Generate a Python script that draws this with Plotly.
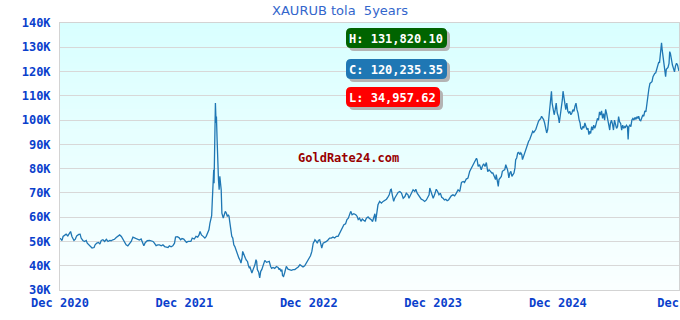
import datetime as dt
import plotly.graph_objects as go

# ---------------- data ----------------
start_date = "2020-12-10"

day_offsets = [
    0, 6, 9, 14, 18, 23, 28, 31, 35, 41, 45, 49, 55, 59, 62, 67, 72, 77, 80, 84,
    89, 94, 100, 103, 108, 113, 117, 121, 126, 131, 136, 141, 146, 150, 155, 160, 165, 170, 175, 180,
    185, 190, 194, 199, 204, 209, 214, 219, 224, 229, 233, 238, 243, 246, 250, 256, 263, 268, 273, 277,
    282, 287, 292, 297, 302, 307, 312, 317, 321, 326, 331, 336, 339, 344, 349, 354, 358, 363,
    371, 376, 384, 388, 394, 399, 404, 408, 411, 415, 420, 425, 429, 433, 437, 440, 443, 445, 447, 449,
    451, 452, 454, 456, 458, 459, 461, 463, 465, 467, 469, 471, 473, 475, 477, 479, 482, 485, 488, 491,
    494, 496, 498, 501, 504, 507, 510, 513, 516, 519, 522, 525, 528, 531, 534, 536, 538, 541, 544, 547,
    550, 553, 556,
    557, 560, 563, 567, 572, 575, 577, 579, 583, 586, 589, 592, 596, 598, 601, 606, 611, 614, 618, 621,
    625, 630, 635, 640, 643, 645, 648, 651, 653, 656, 659, 662, 664, 669, 674, 679, 684, 689, 694, 699,
    704, 708, 713, 718, 721, 725, 728, 731, 735, 739, 741, 743, 746, 748, 752, 755, 758, 762, 765, 768,
    772, 777, 782, 787, 791, 796, 801, 806, 811, 816, 821, 826, 829, 833, 838, 842, 846, 850, 853, 857,
    862, 868, 872, 875, 879, 883, 887, 891, 895, 899, 904, 907,
    914, 917, 921, 924, 926, 930, 933, 938, 943, 948, 953, 958, 963, 966, 970, 972, 975, 979, 982, 987,
    992, 997, 1002, 1007, 1012, 1016, 1021, 1024, 1028, 1032, 1036, 1041, 1044, 1048, 1052, 1055, 1060, 1065, 1070, 1075,
    1080, 1083, 1085, 1088, 1091, 1095, 1099, 1104, 1108, 1112, 1116, 1120, 1124, 1128, 1132, 1136, 1140, 1143, 1148, 1153,
    1158, 1163, 1168, 1173, 1178, 1183, 1187, 1192, 1197, 1202, 1207, 1212, 1217, 1222, 1224, 1227, 1231, 1236, 1239, 1243,
    1247, 1251, 1255, 1259,
    1263, 1267, 1270, 1274, 1278, 1280, 1283, 1286, 1288, 1292, 1295, 1298, 1302, 1305, 1308, 1310, 1313, 1315, 1317, 1320,
    1323, 1326, 1329, 1332, 1335, 1337, 1340, 1343, 1346, 1349, 1352, 1355, 1357, 1360, 1363, 1366, 1369, 1372, 1375, 1378,
    1381, 1384, 1387, 1390, 1393, 1396, 1399, 1401, 1404, 1407, 1410, 1413, 1416, 1419, 1422, 1425, 1428, 1431, 1433, 1436,
    1439, 1440, 1442, 1444, 1447, 1450, 1453, 1456, 1459, 1462, 1465, 1468, 1471, 1474, 1476, 1479, 1482, 1484, 1487, 1490,
    1493, 1496, 1499, 1502, 1505, 1508, 1511, 1514, 1517, 1520, 1523, 1526, 1528, 1531, 1534, 1537, 1540, 1543, 1546, 1549,
    1552, 1554,
    1557, 1560, 1563, 1566, 1569, 1571, 1574, 1577, 1580, 1583, 1586, 1589, 1592, 1595, 1598, 1601, 1604, 1607, 1610, 1613,
    1615, 1618, 1621, 1624, 1627, 1630, 1633, 1636, 1639, 1642, 1645, 1648, 1651, 1654, 1657, 1659, 1662, 1665, 1667, 1669,
    1672, 1675, 1678, 1681, 1684, 1687, 1690, 1693, 1696, 1698, 1701, 1704, 1707, 1710, 1713, 1716, 1719, 1722, 1725, 1728,
    1731, 1734, 1737, 1740, 1742, 1745, 1748, 1751, 1754, 1757, 1759, 1761, 1763, 1765, 1767, 1769, 1771, 1773, 1775, 1777,
    1779, 1782, 1784, 1787, 1789, 1791, 1794, 1797, 1800, 1803, 1806, 1809, 1812, 1814, 1816,
]

prices_k = [
    51.37, 50.41, 52.05, 52.74, 53.0, 52.3, 53.7, 54.1, 52.05, 50.4, 50.96, 52.3, 52.9, 53.0, 51.4, 50.4, 50.0, 50.4, 49.3, 48.6,
    47.7, 47.3, 47.5, 48.6, 49.3, 49.6, 48.9, 50.4, 50.7, 50.0, 50.9, 50.0, 50.4, 50.3, 50.7, 50.9, 51.6, 52.3, 52.7, 52.05,
    50.96, 50.0, 48.6, 48.2, 49.0, 50.0, 51.8, 51.4, 51.2, 50.6, 50.6, 51.0, 49.6, 48.2, 49.5, 50.3, 50.4, 50.3, 50.0, 49.3,
    48.3, 48.6, 48.6, 48.2, 48.6, 47.9, 47.8, 47.5, 48.2, 47.8, 48.2, 49.3, 51.8, 52.0, 51.6, 50.7, 51.2, 51.0,
    49.6, 50.0, 50.0, 51.4, 51.0, 52.1, 51.8, 52.7, 54.1, 52.7, 52.1, 51.4, 52.1, 53.7, 54.8, 57.6, 59.6, 60.6, 67.2, 77.1,
    79.5, 74.0, 94.6, 107.0, 98.8, 101.5, 91.9, 76.8, 75.4, 71.3, 76.8, 74.0, 71.3, 61.7, 60.3, 59.6, 61.0, 62.4, 61.7, 60.3,
    61.0, 60.3, 58.2, 54.8, 52.1, 51.4, 48.6, 47.9, 46.6, 45.2, 43.8, 43.1, 42.4, 41.1, 43.1, 45.9, 45.2, 43.8, 43.1, 42.2,
    41.8, 40.0, 39.0,
    39.7, 38.4, 37.0, 38.6, 40.4, 42.5, 41.8, 38.4, 37.3, 34.96, 37.7, 38.4, 40.4, 41.8, 42.2, 41.4, 41.8, 41.8, 39.7, 38.9,
    39.3, 38.9, 39.7, 39.3, 38.4, 38.9, 37.7, 38.4, 35.9, 35.6, 37.0, 38.6, 39.7, 38.6, 38.4, 38.1, 38.4, 38.4, 39.0, 39.5,
    40.4, 40.0, 39.5, 40.0, 40.8, 41.8, 42.2, 43.2, 44.1, 45.9, 48.0, 49.3, 50.0, 50.7, 50.0, 49.3, 50.4, 50.7, 49.1, 47.3,
    49.3, 49.6, 50.0, 50.7, 51.4, 51.4, 51.8, 51.4, 52.1, 52.1, 53.5, 54.8, 56.2, 56.9, 57.3, 59.0, 59.6, 61.7, 62.4, 61.0,
    61.4, 61.0, 60.3, 59.0, 59.6, 58.3, 59.2, 58.7, 58.3, 59.6, 60.1, 59.6,
    58.9, 58.2, 60.3, 61.4, 58.2, 63.0, 65.1, 66.5, 65.8, 66.5, 67.1, 67.4, 68.5, 69.2, 71.3, 71.5, 69.2, 66.5, 67.8, 69.2,
    70.2, 70.6, 69.9, 67.8, 68.5, 69.9, 69.2, 67.8, 69.2, 70.2, 71.3, 70.6, 71.5, 69.9, 69.2, 68.5, 67.4, 67.1, 66.5, 67.1,
    68.2, 69.2, 72.0, 70.6, 69.2, 67.8, 69.2, 71.5, 70.6, 69.2, 69.9, 68.2, 67.8, 67.1, 67.4, 66.8, 67.1, 67.8, 68.8, 69.2,
    68.8, 69.9, 71.3, 70.6, 74.3, 74.7, 74.3, 75.7, 76.1, 78.8, 80.2, 82.0, 82.9, 84.3, 83.6, 80.9, 81.6, 79.5, 80.9, 82.0,
    80.9, 82.5, 78.8, 79.5,
    78.9, 78.2, 78.2, 76.8, 75.5, 77.5, 74.1, 72.7, 75.5, 76.2, 76.8, 78.9, 79.3, 79.6, 81.6, 80.9, 79.6, 78.2, 76.2, 78.2,
    78.9, 76.8, 77.5, 78.2, 80.3, 83.7, 84.4, 86.5, 86.7, 85.8, 86.5, 85.8, 83.7, 85.1, 86.5, 87.8, 89.2, 89.9, 91.3, 91.9,
    93.3, 94.7, 95.4, 94.9, 95.4, 96.1, 97.4, 98.8, 99.5, 100.2, 100.5, 101.6, 100.9, 100.2, 98.8, 96.7, 94.7, 96.1, 98.8, 100.9,
    105.7, 107.7, 111.9, 107.0, 103.6, 102.2, 104.3, 107.0, 102.9, 101.6, 98.8, 102.2, 103.6, 108.4, 111.9, 109.1, 105.7, 104.3, 107.0, 103.6,
    102.9, 103.6, 102.2, 102.9, 104.3, 103.6, 105.7, 107.0, 104.3, 102.9, 100.2, 98.8, 96.7, 96.1, 97.4, 96.7, 98.8, 97.4, 96.1, 96.7,
    94.0, 95.4,
    94.5, 97.3, 95.9, 97.9, 96.6, 97.3, 99.3, 100.7, 100.0, 103.4, 102.1, 103.8, 100.7, 102.7, 100.0, 104.4, 102.7, 100.0, 97.3, 95.9,
    98.6, 100.0, 98.4, 95.9, 100.0, 97.9, 96.6, 97.3, 101.4, 99.3, 98.6, 95.9, 97.9, 96.6, 97.3, 97.0, 97.9, 97.3, 92.0, 97.3,
    97.9, 97.3, 100.0, 100.7, 100.0, 101.1, 100.3, 101.4, 100.7, 101.6, 100.0, 99.7, 101.1, 102.1, 101.6, 103.8, 103.4, 107.6, 109.6, 113.0,
    115.1, 115.4, 115.8, 117.9, 118.5, 119.2, 119.5, 121.3, 122.3, 124.0, 123.6, 126.8, 128.2, 131.82, 128.8, 126.1, 124.0, 122.0, 119.9, 117.9,
    120.9, 121.3, 121.7, 123.4, 128.2, 127.5, 124.0, 122.7, 121.3, 119.9, 122.3, 123.4, 122.7, 120.3, 120.235,
]

stat_labels = ["H", "C", "L"]
stat_values = [131820.10, 120235.35, 34957.62]

y_tick_values = [30000, 40000, 50000, 60000, 70000, 80000, 90000, 100000, 110000, 120000, 130000, 140000]
y_tick_labels = ["30K", "40K", "50K", "60K", "70K", "80K", "90K", "100K", "110K", "120K", "130K", "140K"]
x_tick_dates = ["2020-12-10", "2021-12-10", "2022-12-10", "2023-12-10", "2024-12-10", "2025-11-30"]
x_tick_labels = ["Dec 2020", "Dec 2021", "Dec 2022", "Dec 2023", "Dec 2024", "Dec 10"]

title_text = "XAURUB tola \u00a05years"
watermark = "GoldRate24.com"

# ---------------- build ----------------
t0 = dt.datetime.fromisoformat(start_date)
dates = [t0 + dt.timedelta(days=d) for d in day_offsets]
prices = [p * 1000 for p in prices_k]
x_end = dates[-1] + dt.timedelta(hours=6)

W, H = 680, 320
ML, MR, MT, MB = 60, 1, 23, 30
PW, PH = W - ML - MR, H - MT - MB


def paper(px, py):
    return (px - ML) / PW, (H - MB - py) / PH


def rrect_path(x0, y0, x1, y1, r):
    # pixel box -> rounded rect path in paper coords
    a0, b1 = paper(x0, y0)
    a1, b0 = paper(x1, y1)
    rx, ry = r / PW, r / PH
    return (f"M{a0+rx},{b1} L{a1-rx},{b1} Q{a1},{b1} {a1},{b1-ry} "
            f"L{a1},{b0+ry} Q{a1},{b0} {a1-rx},{b0} L{a0+rx},{b0} "
            f"Q{a0},{b0} {a0},{b0+ry} L{a0},{b1-ry} Q{a0},{b1} {a0+rx},{b1} Z")


fig = go.Figure()
fig.add_trace(go.Scatter(
    x=dates, y=prices, mode="lines",
    line=dict(color="#1f77b4", width=1.3),
    hoverinfo="skip", showlegend=False,
))

shapes = []
# vertical gradient background of the plot area
n_bands = 40
top_c, bot_c = (217, 255, 255), (250, 255, 255)
for i in range(n_bands):
    f = i / (n_bands - 1)
    c = tuple(round(bot_c[k] + (top_c[k] - bot_c[k]) * f) for k in range(3))
    shapes.append(dict(type="rect", xref="paper", yref="paper", layer="below",
                       x0=0, x1=1, y0=i / n_bands, y1=(i + 1) / n_bands + 0.002,
                       fillcolor=f"rgb{c}", line=dict(width=0)))

box_specs = [  # (x0, y0, x1, y1, colour) in pixels
    (346, 28, 447, 48, "#006400"),
    (346, 59, 447, 79, "#1f77b4"),
    (346, 87, 440, 107, "#ff0000"),
]
annotations = []
for (x0, y0, x1, y1, col), lab, val in zip(box_specs, stat_labels, stat_values):
    shapes.append(dict(type="path", xref="paper", yref="paper", layer="above",
                       path=rrect_path(x0 + 3, y0 + 3, x1 + 3, y1 + 3, 5),
                       fillcolor="#b4b4b4", line=dict(width=0)))
    shapes.append(dict(type="path", xref="paper", yref="paper", layer="above",
                       path=rrect_path(x0, y0, x1, y1, 5),
                       fillcolor=col, line=dict(width=0)))
    cx, cy = paper((x0 + x1) / 2, (y0 + y1) / 2 + 0.5)
    annotations.append(dict(xref="paper", yref="paper", x=cx, y=cy, showarrow=False,
                            text=f"{lab}: {val:,.2f}", xanchor="center", yanchor="middle",
                            font=dict(family="DejaVu Sans Mono", size=12, color="white",
                                      weight="bold")))

wx, wy = paper(348, 158)
annotations.append(dict(xref="paper", yref="paper", x=wx, y=wy, showarrow=False,
                        text=watermark, xanchor="center", yanchor="middle",
                        font=dict(family="DejaVu Sans Mono", size=12, color="#990000",
                                  weight="bold")))

tick_font = dict(family="DejaVu Sans Mono", size=12, color="#0b3fcc", weight="bold")

fig.update_layout(
    width=W, height=H,
    margin=dict(l=ML, r=MR, t=MT, b=MB, pad=0, autoexpand=False),
    paper_bgcolor="white", plot_bgcolor="white",
    title=dict(text=title_text, x=0.5, xanchor="center", y=1 - 10 / H, yanchor="middle",
               font=dict(family="DejaVu Sans", size=13, color="#3366cc")),
    shapes=shapes, annotations=annotations,
    xaxis=dict(range=[dates[0], x_end], tickvals=x_tick_dates, ticktext=x_tick_labels,
               tickfont=tick_font, showgrid=False, showline=True, linecolor="#d3d3d3",
               linewidth=1, mirror=True, ticks="", zeroline=False, ticklabelstandoff=2,
               ticklabeloverflow="allow", automargin=False),
    yaxis=dict(range=[30000, 140000], tickvals=y_tick_values, ticktext=y_tick_labels,
               tickfont=tick_font, showgrid=True, gridcolor="#d8d8d8", gridwidth=1,
               showline=True, linecolor="#d3d3d3", linewidth=1, mirror=True,
               ticks="", zeroline=False, ticklabelstandoff=6, automargin=False),
    hovermode=False,
)

fig.write_html("out.html", config={"displayModeBar": False})
